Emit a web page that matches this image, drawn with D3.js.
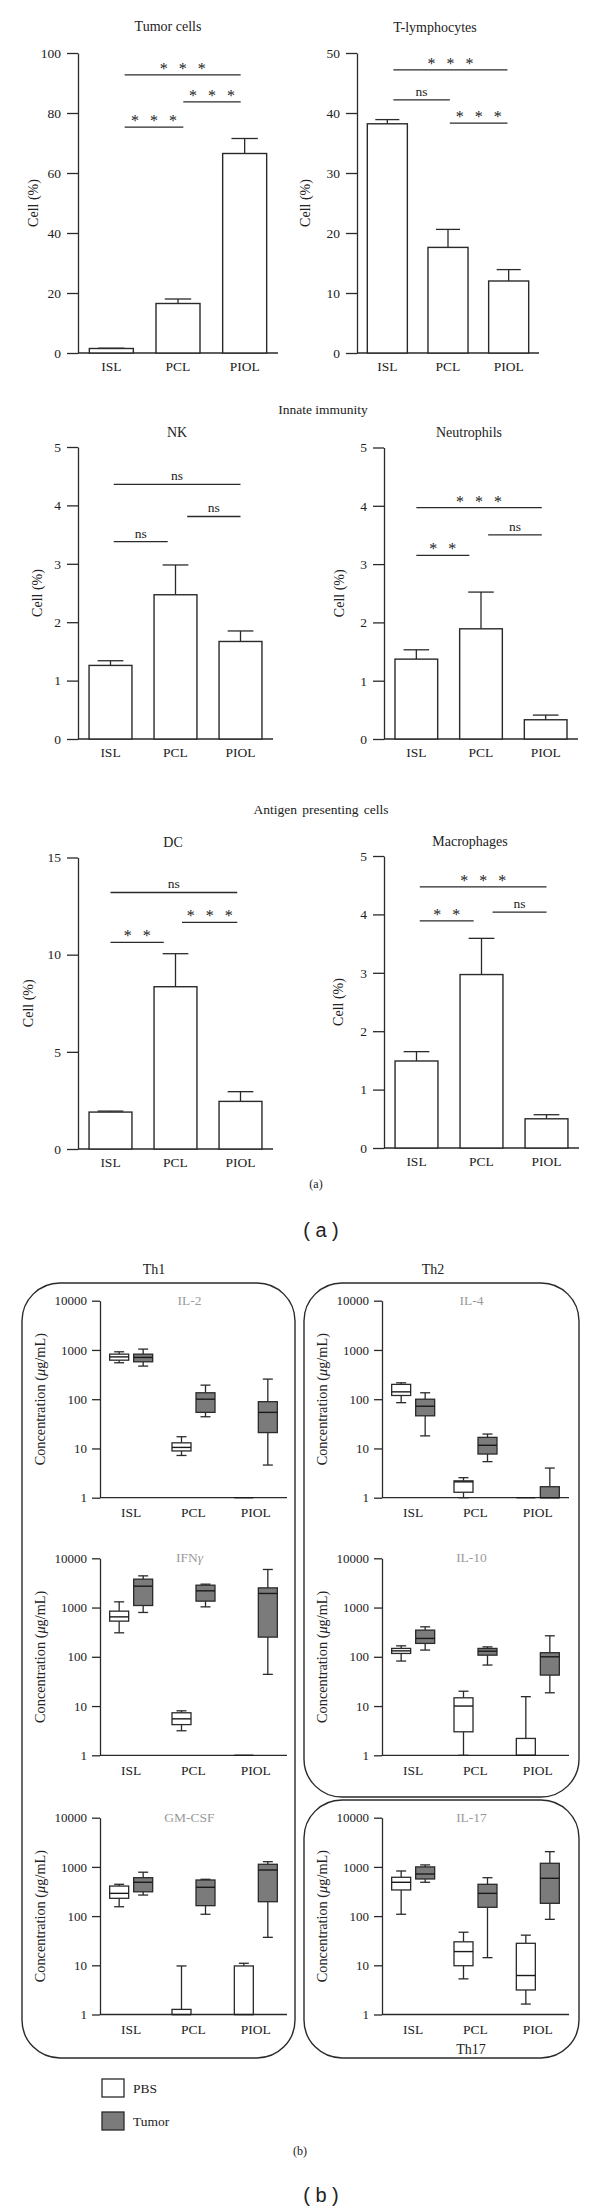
<!DOCTYPE html>
<html><head><meta charset="utf-8">
<script src="https://cdn.jsdelivr.net/npm/d3@7"></script>
<style>
body{margin:0;background:#fff}
svg{display:block}
text{font-family:"Liberation Serif","DejaVu Serif",serif;fill:#222}
</style>
</head><body>
<svg id="c" width="600" height="2209"></svg>
<script>
// ---------------- DATA ----------------
const categories = ["ISL", "PCL", "PIOL"];

// Part (a): mean cell % and SEM
const tumorMean = [1.5, 16.5, 66.5];
const tumorSem  = [0.1, 1.5, 5.0];
const tlympMean = [38.2, 17.6, 12.0];
const tlympSem  = [0.7, 3.0, 1.9];
const nkMean    = [1.26, 2.47, 1.67];
const nkSem     = [0.08, 0.51, 0.18];
const neutMean  = [1.37, 1.89, 0.33];
const neutSem   = [0.16, 0.63, 0.08];
const dcMean    = [1.9, 8.35, 2.45];
const dcSem     = [0.05, 1.7, 0.5];
const macMean   = [1.49, 2.97, 0.5];
const macSem    = [0.16, 0.62, 0.07];

// significance brackets: [from (category index units), to, value, label]
const sigTumor = [[0.2, 1.94, 92.7, "***"], [1.08, 1.94, 83.7, "***"], [0.2, 1.08, 75.3, "***"]];
const sigTlymp = [[0.1, 1.98, 47.2, "***"], [0.1, 1.03, 42.2, "ns"], [1.03, 1.98, 38.3, "***"]];
const sigNk    = [[0.05, 2.0, 4.36, "ns"], [1.18, 2.0, 3.81, "ns"], [0.05, 0.88, 3.38, "ns"]];
const sigNeut  = [[0.0, 1.94, 3.97, "***"], [1.11, 1.94, 3.5, "ns"], [0.0, 0.82, 3.15, "**"]];
const sigDc    = [[0.0, 1.95, 13.2, "ns"], [1.1, 1.95, 11.66, "***"], [0.0, 0.82, 10.63, "**"]];
const sigMac   = [[0.05, 2.0, 4.47, "***"], [1.17, 2.0, 4.04, "ns"], [0.05, 0.88, 3.89, "**"]];

// Part (b): box plots [min, q1, median, q3, max] per category
const il2Pbs     = [[550, 620, 723, 822, 917], [7.2, 8.9, 10.5, 13, 17.3], [1, 1, 1, 1, 1]];
const il2Tumor   = [[470, 575, 705, 822, 1040], [44, 54, 100, 135, 193], [4.6, 21, 54, 89, 256]];
const ifngPbs    = [[307, 530, 647, 845, 1306], [3.15, 4.2, 5.5, 7.3, 8.0], [1, 1, 1, 1, 1]];
const ifngTumor  = [[795, 1100, 2716, 3770, 4400], [1033, 1350, 2186, 2845, 2985], [44, 251, 1932, 2509, 5930]];
const gmcsfPbs   = [[155, 230, 290, 408, 443], [1, 1, 1, 1.27, 9.7], [1, 1, 1, 9.7, 11]];
const gmcsfTumor = [[268, 312, 487, 603, 780], [109, 163, 385, 542, 560], [37, 196, 865, 1130, 1276]];
const il4Pbs     = [[85, 119, 141, 200, 215], [1, 1.29, 2.1, 2.2, 2.55], [1, 1, 1, 1, 1]];
const il4Tumor   = [[18, 46, 72, 100, 135], [5.4, 7.7, 11.6, 16.8, 19.6], [1, 1, 1, 1.67, 4]];
const il10Pbs    = [[82, 117, 132, 148, 167], [1, 3.0, 10, 14.7, 20], [1, 1, 1, 2.2, 15.5]];
const il10Tumor  = [[137, 187, 236, 348, 406], [68, 108, 130, 148, 159], [18.6, 42.5, 100, 121, 267]];
const il17Pbs    = [[109, 340, 487, 615, 826], [5.3, 9.8, 19, 30, 47], [1.63, 3.15, 6.2, 28, 41]];
const il17Tumor  = [[487, 568, 717, 1000, 1097], [14.3, 151, 290, 443, 603], [86, 182, 587, 1184, 2040]];
const logTicks = [1, 10, 100, 1000, 10000];
const seriesNames = ["PBS", "Tumor"];

// ---------------- DRAWING ----------------
const svg = d3.select("#c");
const INK = "#2a2a2a";

function styleAxis(g, fs) {
  g.select(".domain").attr("stroke", INK).attr("stroke-width", 1.3);
  g.selectAll(".tick line").attr("stroke", INK).attr("stroke-width", 1.3);
  g.selectAll(".tick text").attr("font-family", '"Liberation Serif",serif').attr("font-size", fs).attr("fill", "#222");
}

const panelsA = [
  {title: "Tumor cells", mean: tumorMean, sem: tumorSem, sig: sigTumor, max: 100, step: 20, x0: 78, x1: 278, yTop: 53, yBot: 353, tx: 168, ty: 31, ldx: 45},
  {title: "T-lymphocytes", mean: tlympMean, sem: tlympSem, sig: sigTlymp, max: 50, step: 10, x0: 357, x1: 539, yTop: 53, yBot: 353, tx: 435, ty: 32, ldx: 52},
  {title: "NK", mean: nkMean, sem: nkSem, sig: sigNk, max: 5, step: 1, x0: 78, x1: 273, yTop: 447, yBot: 739, tx: 177, ty: 437, ldx: 41},
  {title: "Neutrophils", mean: neutMean, sem: neutSem, sig: sigNeut, max: 5, step: 1, x0: 384, x1: 578, yTop: 447.5, yBot: 739, tx: 469, ty: 437, ldx: 45},
  {title: "DC", mean: dcMean, sem: dcSem, sig: sigDc, max: 15, step: 5, x0: 78, x1: 273, yTop: 857.5, yBot: 1149, tx: 173, ty: 847, ldx: 50},
  {title: "Macrophages", mean: macMean, sem: macSem, sig: sigMac, max: 5, step: 1, x0: 384, x1: 579, yTop: 856, yBot: 1148, tx: 470, ty: 846, ldx: 46}
];

function drawBarPanel(p) {
  const g = svg.append("g");
  const x = d3.scaleBand().domain(categories).range([p.x0, p.x1]).paddingInner(0.34).paddingOuter(0.17);
  const y = d3.scaleLinear().domain([0, p.max]).range([p.yBot, p.yTop]);
  const bw = x.bandwidth();
  const cx = c => x(c) + bw / 2;
  const xpos = u => cx(categories[0]) + u * x.step();

  const ya = g.append("g").attr("transform", `translate(${p.x0},0)`)
    .call(d3.axisLeft(y).tickValues(d3.range(0, p.max + 1e-9, p.step)).tickFormat(d3.format("d"))
      .tickSize(11).tickSizeOuter(0).tickPadding(6));
  styleAxis(ya, 13.5);
  g.append("line").attr("x1", p.x0).attr("x2", p.x1).attr("y1", y(0)).attr("y2", y(0)).attr("stroke", INK).attr("stroke-width", 1.3);

  g.append("text").attr("x", p.tx).attr("y", p.ty).attr("text-anchor", "middle").attr("font-size", 14).text(p.title);
  g.append("text").attr("transform", `translate(${p.x0 - p.ldx},${(p.yTop + p.yBot) / 2}) rotate(-90)`)
    .attr("text-anchor", "middle").attr("dy", "0.35em").attr("font-size", 14).text("Cell (%)");

  categories.forEach((c, i) => {
    g.append("text").attr("x", cx(c)).attr("y", p.yBot + 18).attr("text-anchor", "middle").attr("font-size", 13.5).text(c);
    const top = y(p.mean[i] + p.sem[i]);
    g.append("line").attr("x1", cx(c)).attr("x2", cx(c)).attr("y1", y(p.mean[i])).attr("y2", top).attr("stroke", INK).attr("stroke-width", 1.3);
    g.append("line").attr("x1", cx(c) - bw * 0.3).attr("x2", cx(c) + bw * 0.3).attr("y1", top).attr("y2", top).attr("stroke", INK).attr("stroke-width", 1.3);
    g.append("rect").attr("x", x(c)).attr("width", bw).attr("y", y(p.mean[i])).attr("height", y(0) - y(p.mean[i]))
      .attr("fill", "#fff").attr("stroke", INK).attr("stroke-width", 1.4);
  });

  p.sig.forEach(([a, b, v, lab]) => {
    const xa = xpos(a), xb = xpos(b), yy = y(v);
    g.append("line").attr("x1", xa).attr("x2", xb).attr("y1", yy).attr("y2", yy).attr("stroke", INK).attr("stroke-width", 1.3);
    const mid = (xa + xb) / 2;
    if (lab === "ns") {
      g.append("text").attr("x", mid).attr("y", yy - 4).attr("text-anchor", "middle").attr("font-size", 13.5).text("ns");
    } else {
      const n = lab.length;
      for (let k = 0; k < n; k++) {
        g.append("text").attr("x", mid + (k - (n - 1) / 2) * 19).attr("y", yy - 1).attr("text-anchor", "middle")
          .attr("font-size", 16).attr("fill", "#444").text("*");
      }
    }
  });
}
panelsA.forEach(drawBarPanel);

// section headings
svg.append("text").attr("x", 323).attr("y", 414).attr("text-anchor", "middle").attr("font-size", 13.5).text("Innate immunity");
svg.append("text").attr("x", 321).attr("y", 814).attr("text-anchor", "middle").attr("font-size", 13.5).attr("word-spacing", 2).text("Antigen presenting cells");
svg.append("text").attr("x", 316).attr("y", 1188).attr("text-anchor", "middle").attr("font-size", 12).text("(a)");
svg.append("text").attr("x", 321).attr("y", 1237).attr("text-anchor", "middle").attr("font-size", 20)
  .style("font-family", '"Liberation Sans",Arial,sans-serif').text("( a )");

// ---------- Part (b) ----------
const boxW = 19, boxOff = 12, capW = 10, plotW = 187;
const boxFill = ["#ffffff", "#7b7b7b"];

// rounded frames
const frames = [[22, 1283, 273, 775], [304, 1283, 275, 514], [304, 1800, 275, 258]];
frames.forEach(([fx, fy, fw, fh]) => {
  svg.append("rect").attr("x", fx).attr("y", fy).attr("width", fw).attr("height", fh).attr("rx", 38).attr("ry", 38)
    .attr("fill", "none").attr("stroke", INK).attr("stroke-width", 1.4);
});
svg.append("text").attr("x", 154).attr("y", 1274).attr("text-anchor", "middle").attr("font-size", 14).text("Th1");
svg.append("text").attr("x", 433).attr("y", 1274).attr("text-anchor", "middle").attr("font-size", 14).text("Th2");
svg.append("text").attr("x", 471).attr("y", 2054).attr("text-anchor", "middle").attr("font-size", 14).text("Th17");

const panelsB = [
  {title: "IL-2", pbs: il2Pbs, tumor: il2Tumor, x0: 100, yTop: 1300.7, yBot: 1497.7},
  {title: "IFNγ", pbs: ifngPbs, tumor: ifngTumor, x0: 100, yTop: 1558.3, yBot: 1755.3},
  {title: "GM-CSF", pbs: gmcsfPbs, tumor: gmcsfTumor, x0: 100, yTop: 1817.7, yBot: 2014.5},
  {title: "IL-4", pbs: il4Pbs, tumor: il4Tumor, x0: 382, yTop: 1300.7, yBot: 1497.7},
  {title: "IL-10", pbs: il10Pbs, tumor: il10Tumor, x0: 382, yTop: 1558.3, yBot: 1755.3},
  {title: "IL-17", pbs: il17Pbs, tumor: il17Tumor, x0: 382, yTop: 1817.7, yBot: 2014.5}
];

function drawBoxPanel(p) {
  const g = svg.append("g");
  const x = d3.scaleBand().domain(categories).range([p.x0, p.x0 + plotW]);
  const y = d3.scaleLog().domain([1, 10000]).range([p.yBot, p.yTop]);
  const cx = c => x(c) + x.bandwidth() / 2;

  const ya = g.append("g").attr("transform", `translate(${p.x0},0)`)
    .call(d3.axisLeft(y).tickValues(logTicks).tickFormat(d3.format("d")).tickSize(8).tickSizeOuter(0).tickPadding(5));
  styleAxis(ya, 13);
  g.append("line").attr("x1", p.x0).attr("x2", p.x0 + plotW).attr("y1", p.yBot).attr("y2", p.yBot).attr("stroke", INK).attr("stroke-width", 1.3);

  const t = g.append("text").attr("x", p.x0 + plotW / 2 - 4).attr("y", p.yTop + 4).attr("text-anchor", "middle").attr("font-size", 13.5).attr("fill", "#9a9a9a");
  if (p.title === "IFNγ") {
    t.append("tspan").style("fill", "#9a9a9a").text("IFN");
    t.append("tspan").style("fill", "#9a9a9a").attr("font-style", "italic").text("γ");
  } else t.text(p.title).style("fill", "#9a9a9a");

  const yl = g.append("text").attr("transform", `translate(${p.x0 - 60},${(p.yTop + p.yBot) / 2}) rotate(-90)`)
    .attr("text-anchor", "middle").attr("dy", "0.35em").attr("font-size", 14.3);
  yl.append("tspan").text("Concentration (");
  yl.append("tspan").attr("font-style", "italic").text("μ");
  yl.append("tspan").text("g/mL)");

  categories.forEach((c, i) => {
    g.append("text").attr("x", cx(c)).attr("y", p.yBot + 19.5).attr("text-anchor", "middle").attr("font-size", 13.5).text(c);
    [p.pbs[i], p.tumor[i]].forEach((d, s) => {
      const bx = cx(c) + (s === 0 ? -boxOff : boxOff);
      const [mn, q1, md, q3, mx] = d;
      g.append("line").attr("x1", bx).attr("x2", bx).attr("y1", y(mx)).attr("y2", y(q3)).attr("stroke", INK).attr("stroke-width", 1.3);
      g.append("line").attr("x1", bx).attr("x2", bx).attr("y1", y(q1)).attr("y2", y(mn)).attr("stroke", INK).attr("stroke-width", 1.3);
      if (mx > q3) g.append("line").attr("x1", bx - capW / 2).attr("x2", bx + capW / 2).attr("y1", y(mx)).attr("y2", y(mx)).attr("stroke", INK).attr("stroke-width", 1.3);
      if (mn < q1) g.append("line").attr("x1", bx - capW / 2).attr("x2", bx + capW / 2).attr("y1", y(mn)).attr("y2", y(mn)).attr("stroke", INK).attr("stroke-width", 1.3);
      g.append("rect").attr("x", bx - boxW / 2).attr("width", boxW).attr("y", y(q3)).attr("height", Math.max(0, y(q1) - y(q3)))
        .attr("fill", boxFill[s]).attr("stroke", INK).attr("stroke-width", y(q1) - y(q3) < 0.5 ? 2 : 1.3);
      g.append("line").attr("x1", bx - boxW / 2).attr("x2", bx + boxW / 2).attr("y1", y(md)).attr("y2", y(md)).attr("stroke", "#1a1a1a").attr("stroke-width", 1.4);
    });
  });
}
panelsB.forEach(drawBoxPanel);

// legend
seriesNames.forEach((nm, i) => {
  const ly = 2079 + i * 33;
  svg.append("rect").attr("x", 102).attr("y", ly).attr("width", 22).attr("height", 18)
    .attr("fill", boxFill[i]).attr("stroke", INK).attr("stroke-width", 1.3);
  svg.append("text").attr("x", 133).attr("y", ly + 14).attr("font-size", 13.5).text(nm);
});
svg.append("text").attr("x", 300).attr("y", 2155).attr("text-anchor", "middle").attr("font-size", 12).text("(b)");
svg.append("text").attr("x", 321).attr("y", 2202).attr("text-anchor", "middle").attr("font-size", 20)
  .style("font-family", '"Liberation Sans",Arial,sans-serif').text("( b )");
</script>
</body></html>
